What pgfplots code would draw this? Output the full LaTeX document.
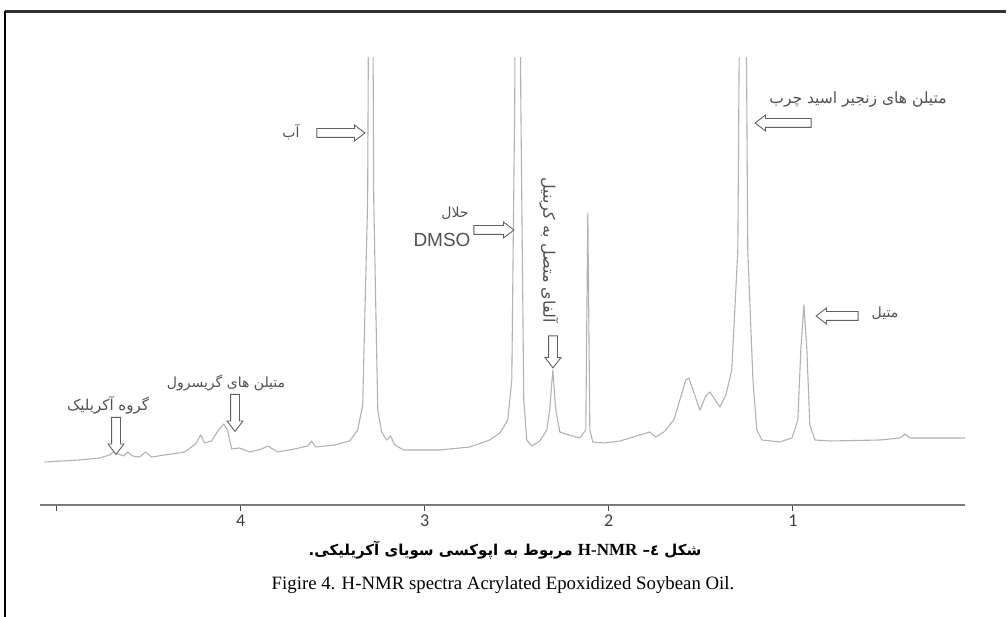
\documentclass[border=0pt]{standalone}
\usepackage{pgfplots}
\pgfplotsset{compat=1.18}
\usetikzlibrary{shapes.arrows}
\usepackage{fontspec}
\setmainfont{Liberation Serif}
\newfontfamily\arabicfont[Script=Arabic]{DejaVu Sans}
\newfontfamily\sansf{Liberation Sans}
\newfontfamily\tickf{Carlito}
\newcommand\w[1]{\hbox{#1}}
\definecolor{spec}{HTML}{B2B2B2}
\definecolor{axgray}{HTML}{7A7A7A}
\definecolor{annot}{HTML}{505050}
\definecolor{arrgray}{HTML}{606060}
\pgfplotstableread{
ppm   I
5.065 43
4.875 45
4.766 47
4.712 50
4.685 54
4.663 51
4.636 49
4.614 53
4.587 49
4.549 48
4.516 53
4.484 48
4.413 50
4.304 53
4.245 61
4.217 70
4.196 62
4.158 64
4.120 75
4.092 81
4.071 75
4.049 56
4.005 57
3.951 53
3.886 56
3.853 59
3.799 53
3.707 56
3.636 59
3.614 64
3.592 58
3.489 60
3.408 64
3.364 75
3.337 100
3.310 305
3.293 1000
3.277 305
3.255 95
3.234 73
3.207 65
3.185 69
3.163 60
3.114 55
2.918 55
2.755 58
2.647 65
2.592 72
2.565 80
2.549 85
2.527 125
2.511 405
2.495 1000
2.478 405
2.462 105
2.446 65
2.418 59
2.375 64
2.337 75
2.321 95
2.304 135
2.288 95
2.266 73
2.234 71
2.158 67
2.125 75
2.114 292
2.103 75
2.087 63
2.022 62
1.940 64
1.832 70
1.777 73
1.745 68
1.701 73
1.647 85
1.614 105
1.582 125
1.565 127
1.543 115
1.505 95
1.473 109
1.451 113
1.429 107
1.397 98
1.364 110
1.332 135
1.299 255
1.272 1000
1.245 255
1.217 125
1.196 75
1.168 65
1.071 63
1.005 67
0.973 85
0.957 155
0.940 200
0.924 155
0.908 80
0.880 65
0.799 64
0.527 65
0.418 67
0.391 71
0.364 67
0.065 67
}\spectrum
\tikzset{blk/.style={single arrow, draw=arrgray, fill=white, line width=0.9pt,
  inner sep=4pt, single arrow head extend=3.5pt, single arrow tip angle=75}}
\begin{document}
\begin{tikzpicture}[x=1pt,y=1pt]
\useasboundingbox (0,0) rectangle (1008,617);
\begin{axis}[at={(40pt,112pt)}, anchor=south west, scale only axis,
  width=925pt, height=447pt,
  x dir=reverse, xmin=0.065, xmax=5.09, ymin=0, ymax=447,
  axis x line*=bottom, axis y line=none,
  x axis line style={draw=axgray, line width=1.6pt, -},
  xtick={1,2,3,4,5}, xticklabels={1,2,3,4,{}},
  xtick align=outside, major tick length=6pt,
  xtick style={draw=black!70, line width=1pt},
  ytick=\empty,
  xticklabel style={font=\tickf\fontsize{18}{18}\selectfont, text=black!75},
  clip=true]
\addplot[color=spec, line width=1.1pt, line join=round, mark=none] table[x=ppm, y=I] {\spectrum};
\end{axis}
% frame
\draw[line width=3pt, black!80] (5,605) -- (1006,605);
\draw[line width=2pt, black] (5,0) -- (5,606);
% annotations (word order chosen so that they are drawn as in the reference)
\node[text=annot, font=\arabicfont\fontsize{15.5}{17}\selectfont] at (858,517) {چرب اسید زنجیر های متیلن};
\node[blk, minimum height=56pt, shape border rotate=180] at (786,494) {};
\node[text=annot, font=\arabicfont\fontsize{14}{16}\selectfont] at (885,304) {متیل};
\node[blk, minimum height=42pt, shape border rotate=180] at (840,301) {};
\node[text=annot, font=\arabicfont\fontsize{14}{16}\selectfont] at (291,485) {آب};
\node[blk, minimum height=48pt] at (338,484) {};
\node[text=annot, font=\arabicfont\fontsize{14}{16}\selectfont] at (455,404) {حلال};
\node[text=annot, font=\sansf\fontsize{19}{20}\selectfont] at (442,377) {DMSO};
\node[blk, minimum height=40pt] at (491,387) {};
\node[text=annot, font=\arabicfont\fontsize{16}{17}\selectfont, rotate=-90] at (549,367) {کربنیل به متصل آلفای};
\node[blk, minimum height=32pt, shape border rotate=270] at (553,268) {};
\node[text=annot, font=\arabicfont\fontsize{14}{16}\selectfont] at (226,234) {گریسرول های متیلن};
\node[blk, minimum height=37pt, shape border rotate=270] at (235,207) {};
\node[text=annot, font=\arabicfont\fontsize{15}{16}\selectfont] at (108,212) {آکریلیک گروه};
\node[blk, minimum height=37pt, shape border rotate=270] at (116,184) {};
% captions
\node[font=\arabicfont\bfseries\fontsize{15}{20}\selectfont] at (505,67) {\w{.}\w{آکریلیکی} \w{سویای} \w{اپوکسی} \w{به} \w{مربوط} \w{\rmfamily\bfseries\fontsize{17}{20}\selectfont H-NMR} \w{٤–} \w{شکل}};
\node[font=\fontsize{18.8}{20}\selectfont] at (503,32) {Figire 4. H-NMR spectra Acrylated Epoxidized Soybean Oil.};
\end{tikzpicture}
\end{document}
